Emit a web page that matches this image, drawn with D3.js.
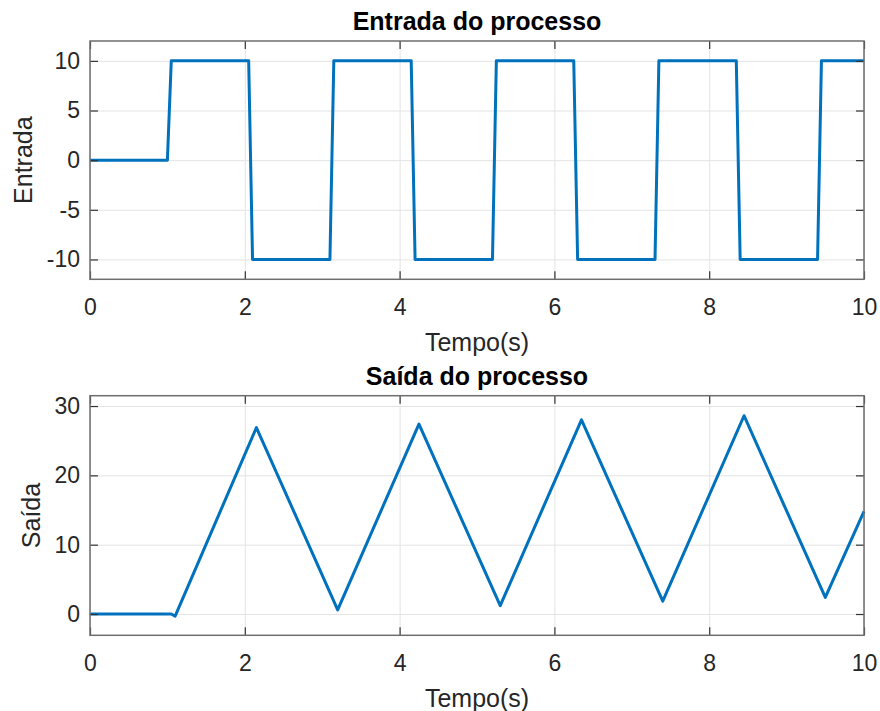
<!DOCTYPE html>
<html>
<head>
<meta charset="utf-8">
<script src="https://cdn.jsdelivr.net/npm/d3@7"></script>
<style>
  html, body { margin: 0; padding: 0; background: #fff; }
  svg { display: block; font-family: "Liberation Sans", Arial, Helvetica, sans-serif; }
</style>
</head>
<body>
<svg id="chart" width="880" height="711"></svg>
<script>
// Process input: square wave (time in s, amplitude)
const inputTime  = [0, 1.0, 1.05, 2.05, 2.1, 3.1, 3.15, 4.15, 4.2, 5.2, 5.25, 6.25, 6.3, 7.3, 7.35, 8.35, 8.4, 9.4, 9.45, 10];
const inputValue = [0, 0,   10,   10,   -10, -10, 10,   10,   -10, -10, 10,   10,   -10, -10, 10,   10,   -10, -10, 10,   10];

// Process output: triangular response
const outputTime  = [0, 1.05, 1.1,  2.15, 3.2, 4.25, 5.3, 6.35, 7.4,  8.45, 9.5, 10];
const outputValue = [0, 0,    -0.3, 26.9, 0.6, 27.4, 1.2, 28.0, 1.85, 28.6, 2.4, 14.8];

// Axis ticks
const timeTicks   = [0, 2, 4, 6, 8, 10];
const inputTicks  = [-10, -5, 0, 5, 10];
const outputTicks = [0, 10, 20, 30];

const svg = d3.select("#chart");
const left = 90, right = 864;
const lineColor = "#0072BD";
const tickFont = 23, labelFont = 25, titleFont = 25;

function panel(opts) {
  const { top, bottom, yDomain, yTicks, times, values, title, ylabel, ylabelX } = opts;
  const x = d3.scaleLinear().domain([0, 10]).range([left, right]);
  const y = d3.scaleLinear().domain(yDomain).range([bottom, top]);
  const w = right - left, h = bottom - top;
  const g = svg.append("g");

  // grid
  g.append("g").attr("transform", `translate(0,${bottom})`)
    .call(d3.axisBottom(x).tickValues(timeTicks).tickSize(-h).tickFormat(""))
    .call(s => s.select(".domain").remove())
    .call(s => s.selectAll("line").attr("stroke", "#e3e3e3").attr("stroke-width", 1));
  g.append("g").attr("transform", `translate(${left},0)`)
    .call(d3.axisLeft(y).tickValues(yTicks).tickSize(-w).tickFormat(""))
    .call(s => s.select(".domain").remove())
    .call(s => s.selectAll("line").attr("stroke", "#e3e3e3").attr("stroke-width", 1));

  // data line
  const pts = times.map((t, i) => [t, values[i]]);
  g.append("path")
    .datum(pts)
    .attr("fill", "none")
    .attr("stroke", lineColor)
    .attr("stroke-width", 3)
    .attr("stroke-linejoin", "round")
    .attr("d", d3.line().x(d => x(d[0])).y(d => y(d[1])));

  // axes with inward ticks on all sides
  const styleAxis = s => {
    s.select(".domain").remove();
    s.selectAll(".tick line").attr("stroke", "#333").attr("stroke-width", 1.2);
    s.selectAll("text").attr("fill", "#262626").attr("font-size", tickFont)
      .attr("font-family", "Liberation Sans, Arial, sans-serif");
  };
  g.append("g").attr("transform", `translate(0,${bottom})`)
    .call(d3.axisBottom(x).tickValues(timeTicks).tickSize(-8).tickPadding(19).tickFormat(d3.format("d")))
    .call(styleAxis);
  g.append("g").attr("transform", `translate(0,${top})`)
    .call(d3.axisTop(x).tickValues(timeTicks).tickSize(-8).tickFormat(""))
    .call(styleAxis);
  g.append("g").attr("transform", `translate(${left},0)`)
    .call(d3.axisLeft(y).tickValues(yTicks).tickSize(-8).tickPadding(10).tickFormat(d => d < 0 ? "-" + Math.abs(d) : d))
    .call(styleAxis);
  g.append("g").attr("transform", `translate(${right},0)`)
    .call(d3.axisRight(y).tickValues(yTicks).tickSize(-8).tickFormat(""))
    .call(styleAxis);

  // axes box
  g.append("rect")
    .attr("x", left).attr("y", top).attr("width", w).attr("height", h)
    .attr("fill", "none").attr("stroke", "#6e6e6e").attr("stroke-width", 1.5);

  // title
  g.append("text")
    .attr("x", (left + right) / 2).attr("y", top - 11)
    .attr("text-anchor", "middle")
    .attr("font-size", titleFont).attr("font-weight", "bold").attr("fill", "#000")
    .text(title);

  // x label
  g.append("text")
    .attr("x", (left + right) / 2).attr("y", bottom + 72)
    .attr("text-anchor", "middle")
    .attr("font-size", labelFont).attr("fill", "#262626")
    .text("Tempo(s)");

  // y label
  g.append("text")
    .attr("transform", `translate(${ylabelX},${(top + bottom) / 2}) rotate(-90)`)
    .attr("text-anchor", "middle")
    .attr("font-size", labelFont).attr("fill", "#262626")
    .text(ylabel);
}

panel({
  top: 41, bottom: 279.3, yDomain: [-12, 12], yTicks: inputTicks,
  times: inputTime, values: inputValue,
  title: "Entrada do processo", ylabel: "Entrada", ylabelX: 32
});

panel({
  top: 395.7, bottom: 635.3, yDomain: [-3.07, 31.49], yTicks: outputTicks,
  times: outputTime, values: outputValue,
  title: "Saída do processo", ylabel: "Saída", ylabelX: 40
});
</script>
</body>
</html>
